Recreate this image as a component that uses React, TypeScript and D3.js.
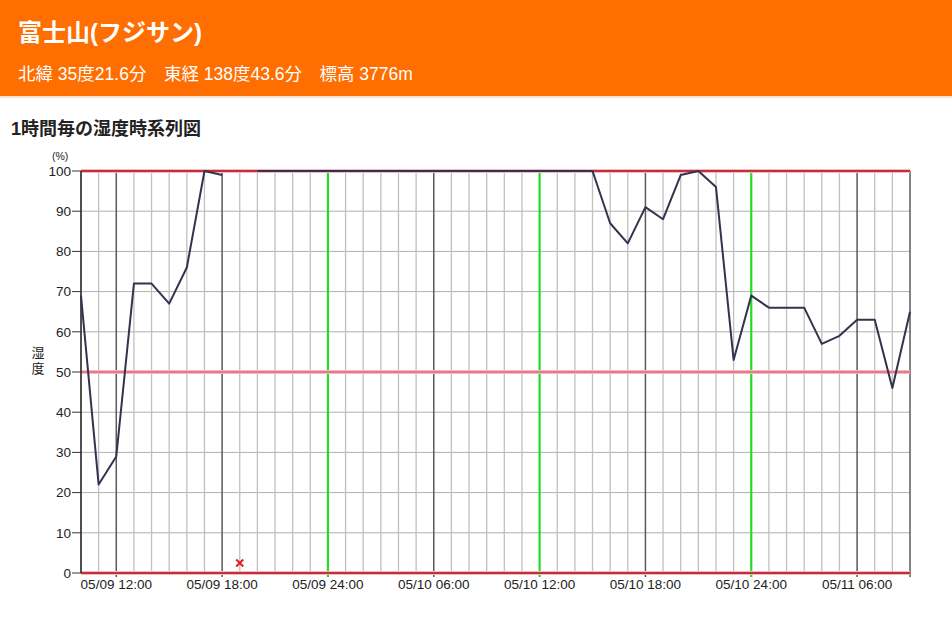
import React from "react";
import * as d3 from "d3";

// Hourly humidity (%) from 05/09 10:00 to 05/11 09:00; null = missing observation
const humidity05_09: (number | null)[] = [69, 22, 29, 72, 72, 67, 76, 100, 99, null, 100, 100, 100, 100];
const humidity05_10: (number | null)[] = [
  100, 100, 100, 100, 100, 100, 100, 100, 100, 100, 100, 100, 100, 100, 100, 100,
  87, 82, 91, 88, 99, 100, 96, 53,
];
const humidity05_11: (number | null)[] = [69, 66, 66, 66, 57, 59, 63, 63, 46, 65];

const humidity: (number | null)[] = [...humidity05_09, ...humidity05_10, ...humidity05_11];

// Labelled ticks (hour index from 05/09 10:00)
const xTickIndex = [2, 8, 14, 20, 26, 32, 38, 44];
const xTickLabels = [
  "05/09 12:00", "05/09 18:00", "05/09 24:00", "05/10 06:00",
  "05/10 12:00", "05/10 18:00", "05/10 24:00", "05/11 06:00",
];
const greenTickIndex = [14, 26, 38];
const yTicks = [0, 10, 20, 30, 40, 50, 60, 70, 80, 90, 100];
const redLevels = [0, 50, 100];

const FONT = '"Liberation Sans", Arial, "Noto Sans CJK JP", sans-serif';

export default function App() {
  const W = 952;
  const H = 623;
  const left = 81;
  const right = 910;
  const top = 171;
  const bottom = 573;

  const n = humidity.length;
  const x = d3.scaleLinear().domain([0, n - 1]).range([left, right]);
  const y = d3.scaleLinear().domain([0, 100]).range([bottom, top]);

  const line = d3
    .line<number | null>()
    .defined((d) => d != null)
    .x((_, i) => x(i))
    .y((d) => y(d as number));

  const missing = humidity
    .map((v, i) => (v == null ? i : -1))
    .filter((i) => i >= 0);

  const hours = d3.range(n);

  return (
    <div style={{ position: "absolute", left: 0, top: 0 }}>
      <svg width={W} height={H} style={{ display: "block", fontFamily: FONT }}>
        <rect x={0} y={0} width={W} height={H} fill="#ffffff" />
        {/* header */}
        <rect x={0} y={0} width={W} height={96} fill="#ff6e00" />
        <rect x={0} y={96} width={W} height={2} fill="#fbe3cf" />
        <text x={18} y={41} fill="#ffffff" fontSize={24} fontWeight="bold">
          富士山(フジサン)
        </text>
        <text x={18} y={80} fill="#ffffff" fontSize={17.5}>
          北緯 35度21.6分　東経 138度43.6分　標高 3776m
        </text>

        <text x={11} y={135} fill="#222" fontSize={18} fontWeight="bold">
          1時間毎の湿度時系列図
        </text>

        {/* horizontal grid */}
        {yTicks.map((t) => (
          <line
            key={"h" + t}
            x1={left}
            x2={right}
            y1={y(t)}
            y2={y(t)}
            stroke="#b0b0b0"
            strokeWidth={1}
          />
        ))}

        {/* hourly vertical grid */}
        {hours.map((i) => {
          const major = xTickIndex.includes(i) || i === n - 1;
          if (major) return null;
          return (
            <line
              key={"v" + i}
              x1={x(i)}
              x2={x(i)}
              y1={top}
              y2={bottom}
              stroke="#c0c0c0"
              strokeWidth={1.3}
            />
          );
        })}
        {[...xTickIndex, n - 1].map((i) => (
          <line
            key={"m" + i}
            x1={x(i)}
            x2={x(i)}
            y1={top}
            y2={bottom + 4}
            stroke={greenTickIndex.includes(i) ? "#22dd22" : "#5a5a5a"}
            strokeWidth={greenTickIndex.includes(i) ? 2.2 : 1.5}
          />
        ))}

        {/* reference levels */}
        {redLevels.map((v) => (
          <g key={"r" + v}>
            <line x1={left} x2={right} y1={y(v)} y2={y(v)} stroke="#f5b8bf" strokeWidth={4} />
            <line
              x1={left}
              x2={right}
              y1={y(v)}
              y2={y(v)}
              stroke={v === 50 ? "#de6a78" : "#c23040"}
              strokeWidth={v === 50 ? 1.6 : 2}
            />
          </g>
        ))}

        {/* y axis */}
        <line x1={left} x2={left} y1={top} y2={bottom} stroke="#222" strokeWidth={1.5} />
        {yTicks.map((t) => (
          <g key={"yt" + t}>
            <line x1={left - 9} x2={left} y1={y(t)} y2={y(t)} stroke="#333" strokeWidth={1} />
            <text
              x={left - 10}
              y={y(t)}
              dy="0.35em"
              textAnchor="end"
              fontSize={13.5}
              fill="#222"
            >
              {t}
            </text>
          </g>
        ))}
        <text x={52} y={160} fontSize={10.5} fill="#222">
          (%)
        </text>
        <text x={38} y={357} fontSize={13} fill="#222" textAnchor="middle">
          湿
        </text>
        <text x={38} y={373} fontSize={13} fill="#222" textAnchor="middle">
          度
        </text>

        {/* x labels */}
        {xTickIndex.map((i, k) => (
          <text
            key={"xl" + i}
            x={x(i)}
            y={589}
            textAnchor="middle"
            fontSize={13.5}
            fill="#222"
          >
            {xTickLabels[k]}
          </text>
        ))}

        {/* humidity line */}
        <path
          d={line(humidity) || ""}
          fill="none"
          stroke="#33334f"
          strokeWidth={2}
          strokeLinejoin="round"
        />

        {/* missing-value markers */}
        {missing.map((i) => {
          const cx = x(i);
          const cy = y(2.5);
          const s = 3.5;
          return (
            <path
              key={"x" + i}
              d={`M${cx - s},${cy - s}L${cx + s},${cy + s}M${cx - s},${cy + s}L${cx + s},${cy - s}`}
              stroke="#e02020"
              strokeWidth={2}
            />
          );
        })}
      </svg>
    </div>
  );
}
